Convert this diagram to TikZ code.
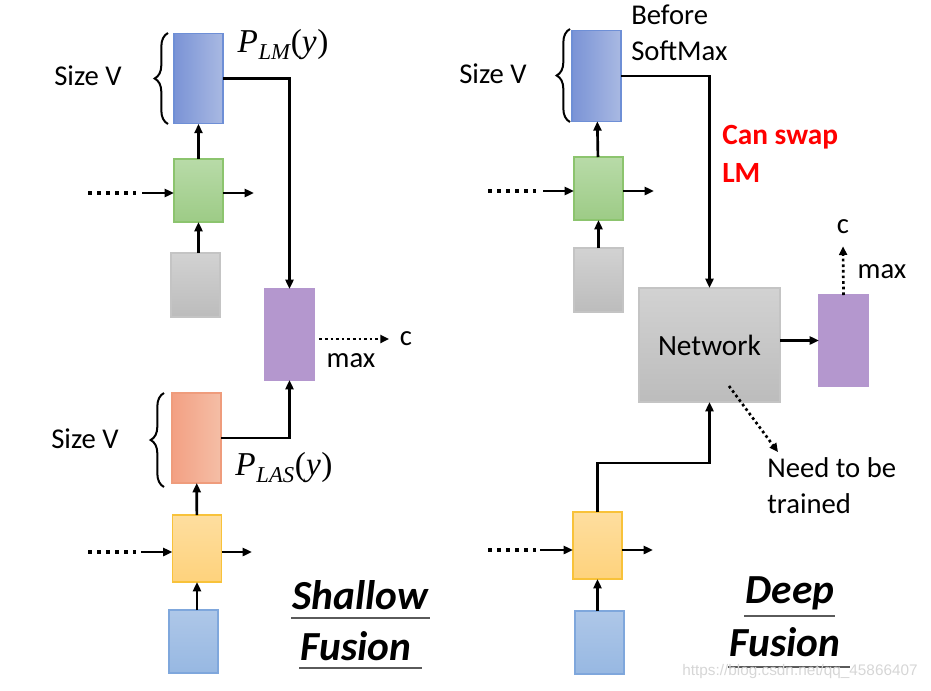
\documentclass[tikz,border=0pt]{standalone}
\usepackage{fontspec}
\setmainfont{Carlito}
\newfontfamily\wmfont{Liberation Sans}
\newfontfamily\mserif{Liberation Serif}
\usetikzlibrary{arrows.meta,decorations.pathreplacing,calc}
\definecolor{lmA}{HTML}{7A93D6}
\definecolor{lmB}{HTML}{A9B9E2}
\definecolor{lmD}{HTML}{6E8FD6}
\definecolor{gnA}{HTML}{B8DBA8}
\definecolor{gnB}{HTML}{9DCB86}
\definecolor{gnD}{HTML}{8CC46E}
\definecolor{gyA}{HTML}{D2D2D2}
\definecolor{gyB}{HTML}{BCBCBC}
\definecolor{gyD}{HTML}{C4C4C4}
\definecolor{pu}{HTML}{B497CE}
\definecolor{orA}{HTML}{F3A083}
\definecolor{orB}{HTML}{F4BEA6}
\definecolor{orD}{HTML}{EF9C7C}
\definecolor{ywA}{HTML}{FEDE9F}
\definecolor{ywB}{HTML}{FED27C}
\definecolor{ywD}{HTML}{F8C23A}
\definecolor{blA}{HTML}{AEC7E8}
\definecolor{blB}{HTML}{97B8E2}
\definecolor{blD}{HTML}{7FA7DC}
\definecolor{swap}{HTML}{FF0000}
\definecolor{uline}{HTML}{5A5A5A}
\definecolor{wm}{HTML}{D6D6D6}
\newcommand\pfun[1]{{\mserif\itshape P\kern0.5pt\raisebox{-0.45ex}{\fontsize{17}{17}\selectfont #1}\kern0.5pt\upshape(\itshape y\kern0.5pt\upshape)}}
\begin{document}
\begin{tikzpicture}[x=0.75pt,y=-0.75pt,
  box/.style={draw, line width=0.8pt, inner sep=0pt, outer sep=0pt, minimum width=36.75pt},
  lmbox/.style={box, draw=lmD, left color=lmA, right color=lmB, minimum height=68pt},
  gnbox/.style={box, draw=gnD, top color=gnA, bottom color=gnB, minimum height=47.25pt},
  gybox/.style={box, draw=gyD, top color=gyA, bottom color=gyB, minimum height=48pt},
  pubox/.style={box, draw=pu, fill=pu, minimum height=68.25pt},
  orbox/.style={box, draw=orD, left color=orA, right color=orB, minimum height=67.5pt},
  ywbox/.style={box, draw=ywD, top color=ywA, bottom color=ywB, minimum height=50.25pt},
  blbox/.style={box, draw=blD, top color=blA, bottom color=blB, minimum height=47.25pt},
  arr/.style={-{Triangle[length=7pt,width=6pt]}, line width=2pt},
  dots/.style={line width=3pt, dash pattern=on 3pt off 3.75pt},
  darr/.style={line width=2pt, dash pattern=on 2pt off 2.2pt, -{Triangle[length=6.5pt,width=6pt]}},
  lbl/.style={font=\fontsize{21.5}{27}\selectfont, inner sep=0pt},
  mlbl/.style={font=\fontsize{25}{28}\selectfont, inner sep=0pt},
  ttl/.style={font=\fontsize{31}{36}\selectfont\bfseries\itshape, inner sep=0pt},
  ul/.style={draw=uline, line width=1.6pt},
  brc/.style={decorate, decoration={brace, amplitude=10pt}, line width=1.5pt}
]
\useasboundingbox (0,0) rectangle (931,690);

% ---------------- Shallow fusion (left) ----------------
\node[lmbox] (lmL) at (198.5,78.5) {};
\node[gnbox] (gnL) at (198.5,190.5) {};
\node[gybox] (gyL) at (195.5,285) {};
\node[pubox] (puL) at (289.5,334.5) {};
\node[orbox] (orL) at (196.5,438) {};
\node[ywbox] (ywL) at (197,548.5) {};
\node[blbox] (blL) at (193.5,641.5) {};

\draw[brc] (168,124) -- (168,33);
\draw[brc] (164,487) -- (164,393);
\node[lbl] (szL1) at (88,76) {Size V};
\node[lbl] (szL2) at (85,439) {Size V};
\node[mlbl] (plm) at (283,45) {\pfun{LM}};
\node[mlbl] (plas) at (284,468) {\pfun{LAS}};

\draw[arr] (lmL.east) -| (puL.north);
\draw[arr] (orL.east) -| (puL.south);
\draw[arr] (gnL) -- (lmL);
\draw[arr] (gyL.north -| gnL.south) -- (gnL.south);
\draw[arr] (ywL) -- (orL);
\draw[arr] (blL.north -| ywL.south) -- (ywL.south);

\coordinate (dL1a) at (88,193);
\coordinate (dL1b) at (136,193);
\coordinate (aL1) at (142,193);
\coordinate (oL1) at (254,193);
\draw[dots] (dL1a) -- (dL1b);
\draw[arr] (aL1) -- (aL1 -| gnL.west);
\draw[arr] (oL1 -| gnL.east) -- (oL1);

\coordinate (dL2a) at (88,552);
\coordinate (dL2b) at (136,552);
\coordinate (aL2) at (141,552);
\coordinate (oL2) at (252,552);
\draw[dots] (dL2a) -- (dL2b);
\draw[arr] (aL2) -- (aL2 -| ywL.west);
\draw[arr] (oL2 -| ywL.east) -- (oL2);

\node[lbl] (cL) at (406,339) {c};
\node[lbl] (maxL) at (351,361) {max};
\draw[darr] ([xshift=4pt]puL.east |- cL) -- ([xshift=-8pt]cL.west);

\node[ttl] (sh) at (360,595) {Shallow};
\node[ttl] (fuL) at (356,646) {Fusion};
\draw[ul] (291,618) -- (430,618);
\draw[ul] (299,668) -- (422,668);

% ---------------- Deep fusion (right) ----------------
\node[lmbox] (lmR) at (596.5,76) {};
\node[gnbox] (gnR) at (598.5,188.5) {};
\node[gybox] (gyR) at (598.5,280) {};
\node[box, draw=gyD, top color=gyA, bottom color=gyB, minimum width=105.75pt, minimum height=85.5pt,
      font=\fontsize{22}{26}\selectfont] (net) at (709.5,345) {Network};
\node[pubox] (puR) at (843.5,340.5) {};
\node[ywbox] (ywR) at (597.5,545.5) {};
\node[blbox] (blR) at (599.5,642.5) {};

\draw[brc] (570,122) -- (570,29);
\node[lbl] (szR) at (493,74) {Size V};
\node[lbl, anchor=west, align=left] (bsm) at (631,33) {Before\\SoftMax};
\node[lbl, anchor=west, align=left, text=swap, font=\fontsize{22}{28.5}\selectfont\bfseries] (cs) at (722,154) {Can swap\\LM};
\node[lbl, anchor=west, align=left] (ntb) at (767,486) {Need to be\\trained};

\draw[arr] (lmR.east) -| (net.north);
\draw[arr] (gnR) -- (lmR);
\draw[arr] (gyR) -- (gnR);
\draw[arr] (net.east |- puR.west) -- (puR.west);
\coordinate (bend) at (597.5,463);
\draw[arr] (ywR.north) -- (bend) -| (net.south);
\draw[arr] (blR.north -| ywR.south) -- (ywR.south);

\coordinate (dR1a) at (488,191);
\coordinate (dR1b) at (536,191);
\coordinate (aR1) at (543,191);
\coordinate (oR1) at (654,191);
\draw[dots] (dR1a) -- (dR1b);
\draw[arr] (aR1) -- (aR1 -| gnR.west);
\draw[arr] (oR1 -| gnR.east) -- (oR1);

\coordinate (dR2a) at (488,550);
\coordinate (dR2b) at (536,550);
\coordinate (aR2) at (540,550);
\coordinate (oR2) at (653,550);
\draw[dots] (dR2a) -- (dR2b);
\draw[arr] (aR2) -- (aR2 -| ywR.west);
\draw[arr] (oR2 -| ywR.east) -- (oR2);

\node[lbl] (cR) at (843,227) {c};
\node[lbl] (maxR) at (882,272) {max};
\draw[darr] (puR.north) -- ([yshift=-9pt]cR.south);

\coordinate (ntS) at (729,386);
\coordinate (ntE) at (778,452);
\draw[darr] (ntS) -- (ntE);

\node[ttl] (dp) at (790,593) {Deep};
\node[ttl] (fuR) at (785,642) {Fusion};
\draw[ul] (744,616) -- (835,616);
\draw[ul] (728,667) -- (850,667);

\node[text=wm, font=\wmfont\fontsize{11.5}{13}\selectfont, inner sep=0pt] (wmk) at (800,672) {https://blog.csdn.net/qq\_45866407};
\end{tikzpicture}
\end{document}
